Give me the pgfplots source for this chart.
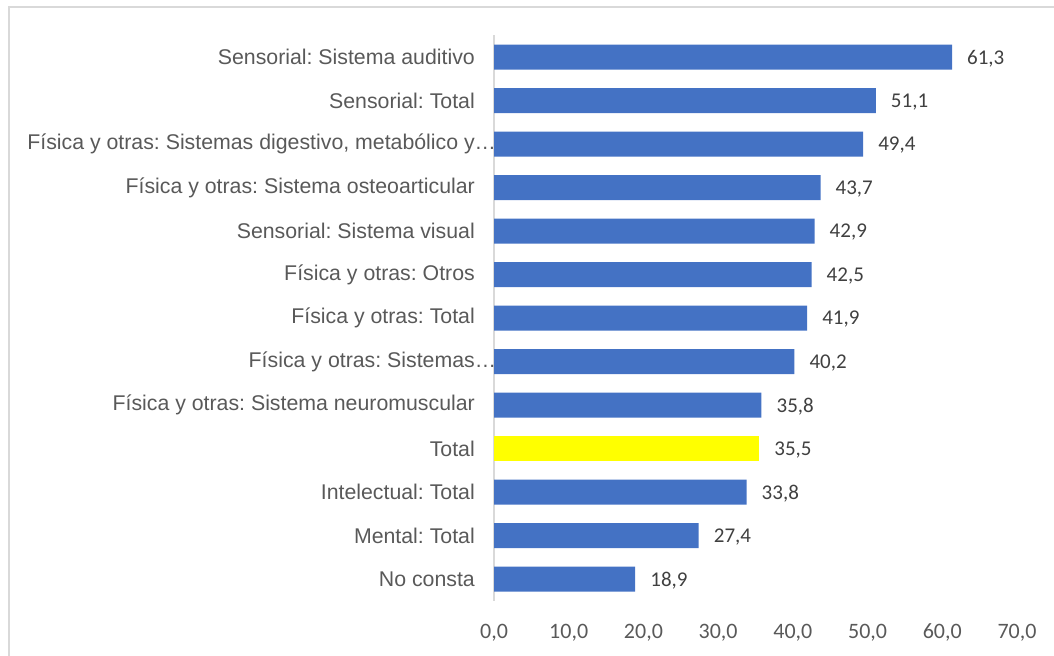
\documentclass[border=0pt]{standalone}
\usepackage{pgfplots}
\pgfplotsset{compat=1.18}
\usepackage{fontspec}
\setmainfont{Liberation Sans}
\newfontfamily\calibri{Carlito}
\frenchspacing
\definecolor{barblue}{HTML}{4472C4}
\definecolor{baryellow}{HTML}{FFFF00}
\definecolor{txtgray}{HTML}{595959}
\definecolor{lblgray}{HTML}{404040}
\definecolor{bordergray}{HTML}{D9D9D9}
\begin{document}
\begin{tikzpicture}
\path[use as bounding box] (0,0) rectangle (1054bp,656bp);
\begin{scope}
\clip (0,0) rectangle (1054bp,656bp);
\draw[bordergray, line width=1.3bp] (9bp,-20bp) rectangle (1080bp,649bp);
\end{scope}
\begin{axis}[
  at={(494bp,55.25bp)}, anchor=south west,
  scale only axis, width=523bp, height=565.5bp,
  xbar, bar width=25bp,
  xmin=0, xmax=70, ymin=-0.5, ymax=12.5, y dir=reverse,
  axis x line*=bottom, axis y line*=left,
  x axis line style={draw=none},
  y axis line style={draw=bordergray, line width=1.3bp},
  major tick length=0pt,
  xtick={0,10,...,70}, ytick={0,...,12},
  yticklabels={Sensorial: Sistema auditivo, Sensorial: Total, {Física y otras: Sistemas digestivo, metabólico y\rlap{…}}, Física y otras: Sistema osteoarticular, Sensorial: Sistema visual, Física y otras: Otros, Física y otras: Total, Física y otras: Sistemas\rlap{…}, Física y otras: Sistema neuromuscular, Total, Intelectual: Total, Mental: Total, No consta},
  xticklabel style={font=\calibri\fontsize{22bp}{26bp}\selectfont, text=txtgray, anchor=base, yshift=-38bp},
  yticklabel style={font=\fontsize{21.3bp}{25bp}\selectfont, text=txtgray, anchor=east, inner sep=0pt, xshift=-19bp},
  nodes near coords,
  nodes near coords style={font=\calibri\fontsize{21bp}{25bp}\selectfont, text=lblgray, anchor=west, inner sep=0pt, xshift=15bp, yshift=-1.5bp},
  /pgf/number format/fixed,
  /pgf/number format/fixed zerofill,
  /pgf/number format/precision=1,
  /pgf/number format/use comma,
  /pgf/number format/assume math mode=true,
]
\addplot[fill=barblue, draw=none, bar shift=0pt] coordinates {
(61.3,0) (51.1,1) (49.4,2) (43.7,3) (42.9,4) (42.5,5) (41.9,6) (40.2,7) (35.8,8) (33.8,10) (27.4,11) (18.9,12)};
\addplot[fill=baryellow, draw=none, bar shift=0pt] coordinates {(35.5,9)};
\end{axis}
\end{tikzpicture}
\end{document}
